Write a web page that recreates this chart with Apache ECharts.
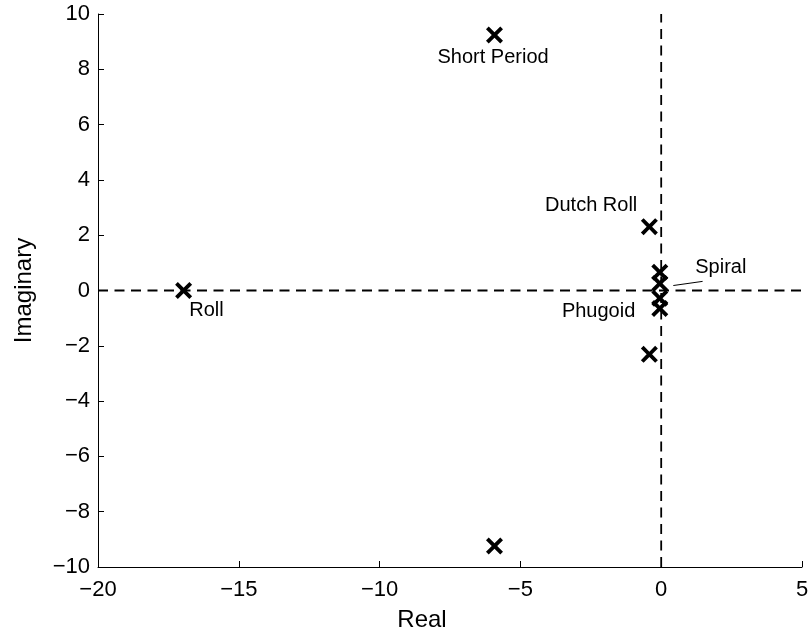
<!DOCTYPE html>
<html>
<head>
<meta charset="utf-8">
<title>Poles</title>
<script src="https://cdn.jsdelivr.net/npm/echarts@6/dist/echarts.min.js"></script>
<style>
    html, body { margin: 0; padding: 0; background: #fff; }
    #pole-chart { width: 809px; height: 635px; }
</style>
</head>
<body>
<div id="pole-chart"></div>
<script>
// pole locations
var realParts = [-5.92, -5.92, -16.96, -0.42, -0.42, -0.05, -0.05, -0.05, -0.05];
var imagParts = [9.24, -9.24, 0, 2.31, -2.31, 0.66, 0.25, -0.28, -0.65];

// mode annotations
var labelText = ['Short Period', 'Dutch Roll', 'Roll', 'Spiral', 'Phugoid'];
var labelX = [-5.97, -0.85, -16.76, 1.21, -0.92];
var labelY = [8.41, 3.09, -0.71, 0.85, -0.77];
var labelAlign = ['center', 'right', 'left', 'left', 'right'];

// leader line from the spiral pole to its label
var spiralLeaderX = [0.43, 1.47];
var spiralLeaderY = [0.18, 0.33];

var xTicks = { min: -20, max: 5, step: 5 };
var yTicks = { min: -10, max: 10, step: 2 };

var FONT = "'Liberation Sans', Arial, Helvetica, sans-serif";
var CROSS = 'path://M16,0 L50,34 L84,0 L100,16 L66,50 L100,84 L84,100 L50,66 L16,100 L0,84 L34,50 L0,16 Z';

function minus(v) {
    return String(v).replace('-', '\u2212');
}

function zip(xs, ys) {
    var out = [];
    for (var i = 0; i < xs.length; i++) {
        out.push([xs[i], ys[i]]);
    }
    return out;
}

var poleData = zip(realParts, imagParts);

var labelData = labelText.map(function (t, i) {
    return {
        name: t,
        value: [labelX[i], labelY[i]],
        label: { align: labelAlign[i] }
    };
});

var dashStyle = { color: '#000', width: 1.8, type: [10, 6.5] };

var myChart = echarts.init(document.getElementById('pole-chart'));
var option = {
    animation: false,
    backgroundColor: '#fff',
    grid: { left: 98, right: 7, top: 14, bottom: 68, containLabel: false, outerBoundsMode: 'none' },
    xAxis: {
        type: 'value',
        min: xTicks.min,
        max: xTicks.max,
        interval: xTicks.step,
        name: 'Real',
        nameLocation: 'middle',
        nameGap: 41,
        nameTextStyle: { fontFamily: FONT, fontSize: 24, color: '#000', padding: [0, 56, 0, 0] },
        axisLine: { onZero: false, lineStyle: { color: '#000', width: 1 } },
        axisTick: { inside: true, length: 6, lineStyle: { color: '#000' } },
        axisLabel: { fontFamily: FONT, fontSize: 22, color: '#000', margin: 12, formatter: minus },
        splitLine: { show: false }
    },
    yAxis: {
        type: 'value',
        min: yTicks.min,
        max: yTicks.max,
        interval: yTicks.step,
        name: 'Imaginary',
        nameLocation: 'middle',
        nameGap: 62,
        nameTextStyle: { fontFamily: FONT, fontSize: 24, color: '#000' },
        axisLine: { onZero: false, lineStyle: { color: '#000', width: 1 } },
        axisTick: { inside: true, length: 6, lineStyle: { color: '#000' } },
        axisLabel: { fontFamily: FONT, fontSize: 22, color: '#000', margin: 8, formatter: minus },
        splitLine: { show: false }
    },
    series: [
        {
            name: 'real axis',
            type: 'line',
            symbol: 'none',
            silent: true,
            lineStyle: dashStyle,
            data: [[xTicks.min, 0], [xTicks.max, 0]],
            z: 1
        },
        {
            name: 'imag axis',
            type: 'line',
            symbol: 'none',
            silent: true,
            lineStyle: dashStyle,
            data: [[0, yTicks.min], [0, yTicks.max]],
            z: 1
        },
        {
            name: 'spiral leader',
            type: 'line',
            symbol: 'none',
            silent: true,
            lineStyle: { color: '#000', width: 1 },
            data: zip(spiralLeaderX, spiralLeaderY),
            z: 2
        },
        {
            name: 'poles',
            type: 'scatter',
            symbol: CROSS,
            symbolSize: 17,
            itemStyle: { color: '#000', opacity: 1 },
            data: poleData,
            z: 3
        },
        {
            name: 'labels',
            type: 'scatter',
            symbolSize: 0,
            silent: true,
            itemStyle: { opacity: 1 },
            label: {
                show: true,
                position: 'inside',
                verticalAlign: 'middle',
                fontFamily: FONT,
                fontSize: 20,
                color: '#000',
                textBorderWidth: 0,
                formatter: function (p) { return p.name; }
            },
            data: labelData,
            z: 4
        }
    ]
};
myChart.setOption(option);
</script>
</body>
</html>
